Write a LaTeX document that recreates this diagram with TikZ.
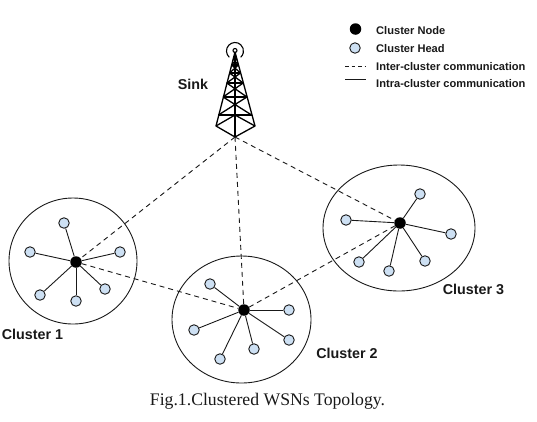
\documentclass[tikz,border=0pt]{standalone}
\usepackage{fontspec}
\setmainfont{Liberation Sans}
\newfontfamily\capfont{Liberation Serif}
\definecolor{headfill}{RGB}{205,224,243}
\definecolor{inkc}{RGB}{25,25,25}
\usetikzlibrary{shapes.geometric}
\tikzset{
 x=1pt,y=-1pt,
 head/.style={circle,draw=inkc,line width=0.9pt,fill=headfill,minimum size=10.5pt,inner sep=0pt},
 cnode/.style={circle,fill=black,minimum size=11.5pt,inner sep=0pt},
 clusterring/.style={ellipse,draw=inkc,line width=0.9pt,inner sep=0pt},
 intra/.style={draw=inkc,line width=0.9pt},
 inter/.style={draw=inkc,line width=0.9pt,dash pattern=on 5pt off 4pt},
 lab/.style={font=\bfseries\fontsize{14.3}{16}\selectfont,inner sep=0pt,text=inkc},
 leg/.style={font=\bfseries\fontsize{11.1}{13}\selectfont,inner sep=0pt,anchor=west,text=inkc},
 tower/.style={draw=black,line width=1.3pt,line join=round},
}
\begin{document}
\begin{tikzpicture}
\useasboundingbox (0,0) rectangle (537,421);
% rings
\node[clusterring,minimum width=128pt,minimum height=126pt] (r1) at (73,261) {};
\node[clusterring,minimum width=139pt,minimum height=127pt] (r2) at (241.5,319.5) {};
\node[clusterring,minimum width=152pt,minimum height=126pt] (r3) at (399,228) {};
% cluster centres
\node[cnode] (c1) at (76,262) {};
\node[cnode] (c2) at (244,310) {};
\node[cnode] (c3) at (400,223) {};
% tower
\coordinate (sink) at (235,137);
\coordinate (apex) at (235,52);
\coordinate (bl) at (216,126);
\coordinate (br) at (255,126);
\coordinate (bc) at (235,115);
\draw[tower] (apex) -- (bl) -- (sink) -- (br) -- cycle;
\draw[tower] (apex) -- (sink);
\draw[tower] (bl) -- (bc) -- (br);
\draw[tower] (218.4,115) -- (251.6,115);
\draw[tower] (218.4,115) -- (246.9,97) (251.6,115) -- (223.1,97);
\draw[tower] (223.1,97) -- (246.9,97);
\draw[tower] (223.1,97) -- (243.2,83) (246.9,97) -- (226.8,83);
\draw[tower] (226.8,83) -- (243.2,83);
\draw[tower] (226.8,83) -- (240.5,73) (243.2,83) -- (229.5,73);
\draw[tower] (229.5,73) -- (240.5,73);
\draw[tower] (229.5,73) -- (238.4,65) (240.5,73) -- (231.6,65);
\draw[tower] (231.6,65) -- (238.4,65);
\draw[tower] (231.6,65) -- (236.8,59) (238.4,65) -- (233.2,59);
\node[circle,draw=black,line width=1.1pt,minimum size=4pt,inner sep=0pt] (tip) at (235,50.5) {};
\draw[black,line width=1.1pt] (229.3,57.3) arc[start angle=132,end angle=408,radius=8.5];
% inter
\draw[inter] (sink) -- (c1);
\draw[inter] (sink) -- (c2);
\draw[inter] (sink) -- (c3);
\draw[inter] (c1) -- (c2);
\draw[inter] (c2) -- (c3);
% heads
\foreach \n/\p in {a/{64,223},b/{30,252},c/{120,252},d/{40,295},e/{76,301},f/{105,289}}{
  \node[head] (h1\n) at (\p) {};
}
\foreach \n/\p in {a/{210,284},b/{194,330},c/{220,359},d/{254,349},e/{289,340},f/{289,310}}{
  \node[head] (h2\n) at (\p) {};
}
\foreach \n/\p in {a/{420,194},b/{346,220},c/{451,234},d/{359,262},e/{389,271},f/{425,261}}{
  \node[head] (h3\n) at (\p) {};
}
\foreach \k in {1,2,3}{\foreach \n in {a,b,c,d,e,f}{\draw[intra] (c\k) -- (h\k\n);}}
% labels
\node[lab] (sinklab) at (193,84) {Sink};
\node[lab] (l1) at (32.5,334) {Cluster 1};
\node[lab] (l2) at (347,353) {Cluster 2};
\node[lab] (l3) at (473.5,289) {Cluster 3};
\node[font=\capfont\fontsize{17.7}{20}\selectfont,inner sep=0pt,text=inkc] (cap) at (267.5,401) {Fig.1.Clustered WSNs Topology.};
% legend
\node[cnode] (k1) at (355.5,29) {};
\node[head] (k2) at (355,48) {};
\coordinate (k3a) at (345,66);
\coordinate (k3b) at (366,66);
\coordinate (k4a) at (345,79.5);
\coordinate (k4b) at (366,79.5);
\draw[inter,dash pattern=on 3.5pt off 3pt] (k3a) -- (k3b);
\draw[intra] (k4a) -- (k4b);
\node[leg] (t1) at (376,31) {Cluster Node};
\node[leg] (t2) at (376,49) {Cluster Head};
\node[leg] (t3) at (376,67) {Inter-cluster communication};
\node[leg] (t4) at (376,83.5) {Intra-cluster communication};
\end{tikzpicture}
\end{document}
